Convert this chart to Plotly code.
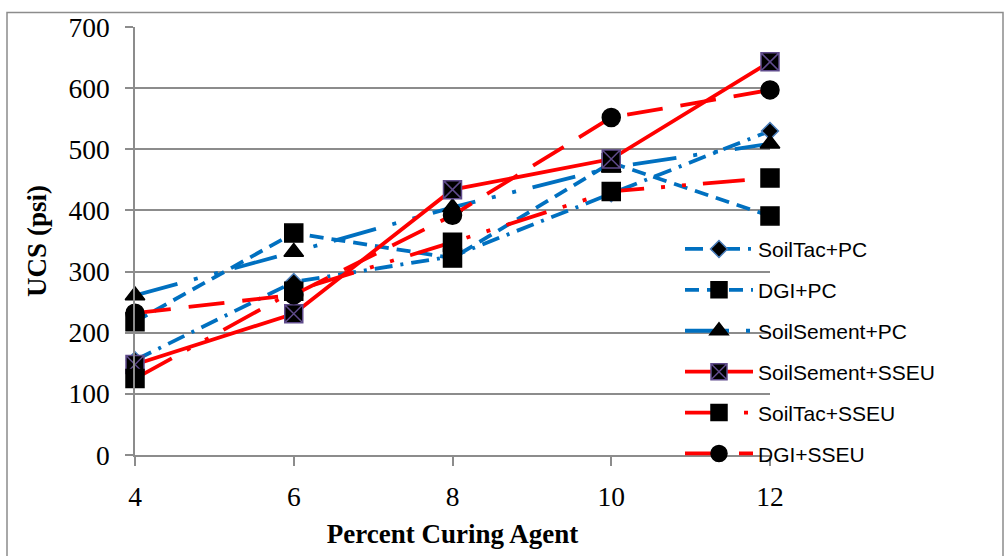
import plotly.graph_objects as go

# ---- data ----
percent = [4, 6, 8, 10, 12]
soiltac_pc = [155, 283, 325, 428, 530]
dgi_pc = [218, 363, 322, 478, 391]
soilsement_pc = [261, 332, 405, 470, 509]
soilsement_sseu = [148, 231, 434, 484, 643]
soiltac_sseu = [125, 268, 348, 431, 453]
dgi_sseu = [232, 262, 392, 552, 597]

y_ticks = [0, 100, 200, 300, 400, 500, 600, 700]
x_ticks = [4, 6, 8, 10, 12]

BLUE = "#0070C0"
RED = "#FF0000"
GRID = "#8C8C8C"

series = [
    dict(name="SoilTac+PC", y=soiltac_pc, color=BLUE, dash="18px,8px,3px,8px",
         symbol="diamond", size=13, mline="#4A7EBB"),
    dict(name="DGI+PC", y=dgi_pc, color=BLUE, dash="14px,8px",
         symbol="square", size=18, mline="black"),
    dict(name="SoilSement+PC", y=soilsement_pc, color=BLUE, dash="44px,17px,4px,17px,4px,17px",
         symbol="triangle-up", size=17, mline="black"),
    dict(name="SoilSement+SSEU", y=soilsement_sseu, color=RED, dash="solid",
         symbol="square-x", size=18, mline="#5F4B8B"),
    dict(name="SoilTac+SSEU", y=soiltac_sseu, color=RED, dash="42px,17px,4px,17px,4px,17px",
         symbol="square", size=18, mline="black"),
    dict(name="DGI+SSEU", y=dgi_sseu, color=RED, dash="36px,18px",
         symbol="circle", size=18, mline="black"),
]

fig = go.Figure()
for i, s in enumerate(series):
    fig.add_trace(go.Scatter(
        x=percent, y=s["y"], name=s["name"], mode="lines+markers",
        line=dict(color=s["color"], width=3.8, dash=s["dash"]),
        marker=dict(symbol=s["symbol"], size=s["size"], color="black",
                    line=dict(color=s["mline"], width=1.5)),
        cliponaxis=False, legendgroup=f"g{i}",
    ))

L, R, T, B = 135, 238, 22, 95
W, H = 1008, 556
pw, ph = W - L - R, H - T - B

def px_to_paper_x(px):
    return (px - L) / pw

def px_to_paper_y(py):
    return (H - B - py) / ph

fig.add_shape(type="rect", xref="paper", yref="paper",
              x0=px_to_paper_x(7), x1=px_to_paper_x(1003),
              y0=px_to_paper_y(570), y1=px_to_paper_y(7),
              line=dict(color="#8C8C8C", width=1.5), fillcolor="rgba(0,0,0,0)", layer="below")

tick_font = dict(family="Liberation Serif, Times New Roman, serif", size=27.5, color="black")
title_font = dict(family="Liberation Serif, Times New Roman, serif", size=27, color="black")

fig.update_layout(
    width=W, height=H,
    margin=dict(l=L, r=R, t=T, b=B, pad=0),
    paper_bgcolor="white", plot_bgcolor="white",
    showlegend=True,
    legend=dict(x=px_to_paper_x(680), y=px_to_paper_y(229), xanchor="left", yanchor="top",
                bgcolor="rgba(0,0,0,0)", borderwidth=0,
                font=dict(family="Liberation Sans, Arial, sans-serif", size=21, color="black"),
                tracegroupgap=10.6, itemwidth=68),
    xaxis=dict(range=[4, 12], tickvals=x_ticks, ticktext=[str(v) for v in x_ticks],
               showgrid=False, zeroline=False, showline=True, linecolor=GRID, linewidth=1.5,
               ticks="outside", ticklen=9, tickcolor=GRID, tickwidth=1.5,
               tickfont=tick_font, ticklabelstandoff=7,
               title=dict(text="<b>Percent Curing Agent</b>", font=title_font, standoff=13)),
    yaxis=dict(range=[0, 700], tickvals=y_ticks, ticktext=[str(v) for v in y_ticks],
               showgrid=True, gridcolor=GRID, gridwidth=1.5, zeroline=False,
               showline=True, linecolor=GRID, linewidth=1.5,
               ticks="outside", ticklen=8, tickcolor=GRID, tickwidth=1.5,
               tickfont=tick_font, ticklabelstandoff=10,
               title=dict(text="<b>UCS (psi)</b>", font=title_font, standoff=14)),
)

fig.write_html("out.html")
